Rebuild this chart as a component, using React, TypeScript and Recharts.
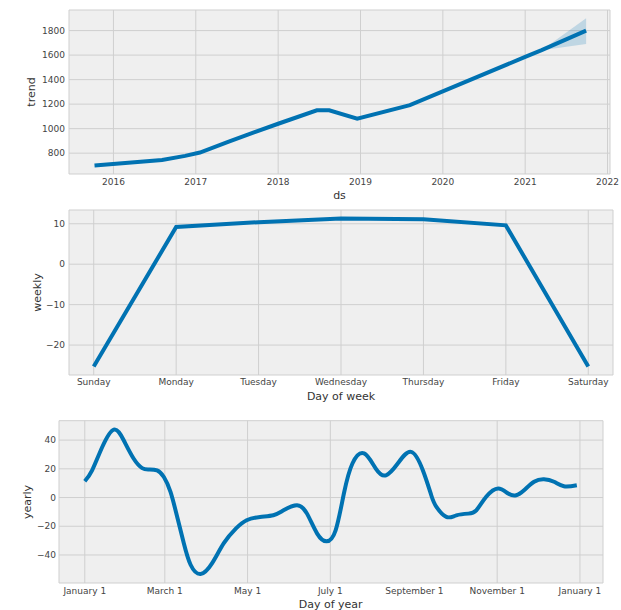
import React from 'react';
import {
  ComposedChart,
  LineChart,
  Line,
  Area,
  XAxis,
  YAxis,
  CartesianGrid,
} from 'recharts';

// trend panel
const trendDs = [2015.77, 2016.59, 2016.87, 2017.05, 2017.4, 2018.0, 2018.47, 2018.62, 2018.96, 2019.6, 2021.0, 2021.2, 2021.74];
const trendValues = [700, 745, 778, 805, 895, 1040, 1150, 1150, 1082, 1192, 1585, 1640, 1800];
const trendLower = [700, 745, 778, 805, 895, 1040, 1150, 1150, 1082, 1192, 1585, 1640, 1690];
const trendUpper = [700, 745, 778, 805, 895, 1040, 1150, 1150, 1082, 1192, 1585, 1640, 1900];
const trendYearTicks = [2016, 2017, 2018, 2019, 2020, 2021, 2022];
const trendValueTicks = [800, 1000, 1200, 1400, 1600, 1800];

// weekly panel
const weekDays = ['Sunday', 'Monday', 'Tuesday', 'Wednesday', 'Thursday', 'Friday', 'Saturday'];
const weeklyValues = [-25.3, 9.2, 10.4, 11.3, 11.1, 9.6, -25.3];
const weeklyTicks = [-20, -10, 0, 10];

// yearly panel (day of year)
const yearlyDay = [0, 5.4, 12.8, 21.4, 28.8, 36.1, 42.3, 47.2, 53.3, 58.3, 63.2, 68.1, 73, 78, 85.3, 93.9, 102.5, 111.5, 119.3, 129.2, 139, 146.5, 156.4, 163.8, 171.3, 178.2, 184.9, 191, 197.3, 205.9, 214.5, 222, 230.7, 240.5, 249.2, 255.4, 259.2, 266.5, 273.9, 282.7, 288.6, 295.9, 304.7, 312.1, 318, 323.8, 331.2, 338.5, 345.9, 353.2, 362.7];
const yearlyValues = [11.3, 18.9, 35, 47.3, 39.7, 27, 20.5, 19.6, 18.9, 14.3, 3.9, -13.4, -31.8, -46.8, -53.3, -45.7, -31.8, -21.5, -15.8, -13.5, -12.3, -8.9, -5.4, -11.2, -25.1, -30.5, -22.8, 2.8, 23.7, 30.7, 20.2, 15.5, 23.7, 31.8, 19, 1.6, -6.5, -13.5, -12.4, -11.2, -8.9, 0.5, 6.3, 2.8, 1.6, 5.1, 11, 12.8, 11, 7.9, 8.6];
const monthTickDays = [0, 59, 120, 181, 243, 304, 365];
const monthTickLabels = ['January 1', 'March 1', 'May 1', 'July 1', 'September 1', 'November 1', 'January 1'];
const yearlyTicks = [-40, -20, 0, 20, 40];

const BLUE = '#0072B2';
const FONT = '"DejaVu Sans", sans-serif';
const tickStyle = { fontSize: 9, fill: '#444', fontFamily: FONT };
const fmtNum = (v: number) => (v < 0 ? `\u2212${Math.abs(v)}` : `${v}`);

const trendData = trendDs.map((ds, i) => ({
  ds,
  trend: trendValues[i],
  band: [trendLower[i], trendUpper[i]],
}));
const weeklyData = weeklyValues.map((v, i) => ({ day: i, weekly: v }));
const yearlyData = yearlyDay.map((d, i) => ({ day: d, yearly: yearlyValues[i] }));

const grid = <CartesianGrid fill="#efefef" stroke="#cfcfcf" strokeWidth={1} />;

const Title = ({ x, y, text, rotate }: { x: number; y: number; text: string; rotate?: boolean }) => (
  <text
    x={x}
    y={y}
    textAnchor="middle"
    dominantBaseline="central"
    transform={rotate ? `rotate(-90, ${x}, ${y})` : undefined}
    style={{ fontSize: 11, fill: '#333', fontFamily: FONT }}
  >
    {text}
  </text>
);

export default function App() {
  return (
    <div style={{ position: 'absolute', left: 0, top: 0, width: 621, height: 610, background: '#fff', overflow: 'hidden' }}>
      <div style={{ position: 'absolute', left: 0, top: 0 }}>
        <ComposedChart width={621} height={200} data={trendData} margin={{ top: 10, right: 11, bottom: 0, left: 0 }}>
          {grid}
          <XAxis
            dataKey="ds"
            type="number"
            domain={[2015.46, 2022.03]}
            allowDataOverflow
            ticks={trendYearTicks}
            tickFormatter={(v: number) => `${v}`}
            tick={tickStyle}
            tickLine={false}
            axisLine={false}
            tickSize={0}
            tickMargin={5}
            height={26}
          />
          <YAxis
            type="number"
            domain={[630, 1968]}
            allowDataOverflow
            ticks={trendValueTicks}
            tick={tickStyle}
            tickLine={false}
            axisLine={false}
            tickSize={0}
            tickMargin={4}
            width={69}
          />
          <Area dataKey="band" type="linear" stroke="none" fill={BLUE} fillOpacity={0.2} isAnimationActive={false} />
          <Line dataKey="trend" type="linear" stroke={BLUE} strokeWidth={4} dot={false} isAnimationActive={false} />
        </ComposedChart>
      </div>

      <div style={{ position: 'absolute', left: 0, top: 200 }}>
        <LineChart width={621} height={210} data={weeklyData} margin={{ top: 10, right: 8, bottom: 0, left: 0 }}>
          {grid}
          <XAxis
            dataKey="day"
            type="number"
            domain={[-0.3, 6.3]}
            allowDataOverflow
            ticks={[0, 1, 2, 3, 4, 5, 6]}
            tickFormatter={(v: number) => weekDays[v]}
            tick={tickStyle}
            tickLine={false}
            axisLine={false}
            tickSize={0}
            tickMargin={3.5}
            height={35}
          />
          <YAxis
            type="number"
            domain={[-27.4, 13.4]}
            allowDataOverflow
            ticks={weeklyTicks}
            tickFormatter={fmtNum}
            tick={tickStyle}
            tickLine={false}
            axisLine={false}
            tickSize={0}
            tickMargin={4}
            width={69}
          />
          <Line dataKey="weekly" type="linear" stroke={BLUE} strokeWidth={4} dot={false} isAnimationActive={false} />
        </LineChart>
      </div>

      <div style={{ position: 'absolute', left: 0, top: 410 }}>
        <LineChart width={621} height={200} data={yearlyData} margin={{ top: 10.7, right: 18, bottom: 0, left: 0 }}>
          {grid}
          <XAxis
            dataKey="day"
            type="number"
            domain={[-19, 382]}
            allowDataOverflow
            ticks={monthTickDays}
            tickFormatter={(v: number) => monthTickLabels[monthTickDays.indexOf(v)]}
            tick={tickStyle}
            tickLine={false}
            axisLine={false}
            tickSize={0}
            tickMargin={4.5}
            height={27}
          />
          <YAxis
            type="number"
            domain={[-59.5, 53.5]}
            allowDataOverflow
            ticks={yearlyTicks}
            tickFormatter={fmtNum}
            tick={tickStyle}
            tickLine={false}
            axisLine={false}
            tickSize={0}
            tickMargin={3}
            width={59}
          />
          <Line dataKey="yearly" type="natural" stroke={BLUE} strokeWidth={4} dot={false} isAnimationActive={false} />
        </LineChart>
      </div>

      <svg width={621} height={610} style={{ position: 'absolute', left: 0, top: 0, pointerEvents: 'none' }}>
        <Title x={31.7} y={92} text="trend" rotate />
        <Title x={339.5} y={195} text="ds" />
        <Title x={37.6} y={292.5} text="weekly" rotate />
        <Title x={341} y={396} text="Day of week" />
        <Title x={27.7} y={502} text="yearly" rotate />
        <Title x={330.7} y={604} text="Day of year" />
      </svg>
    </div>
  );
}
